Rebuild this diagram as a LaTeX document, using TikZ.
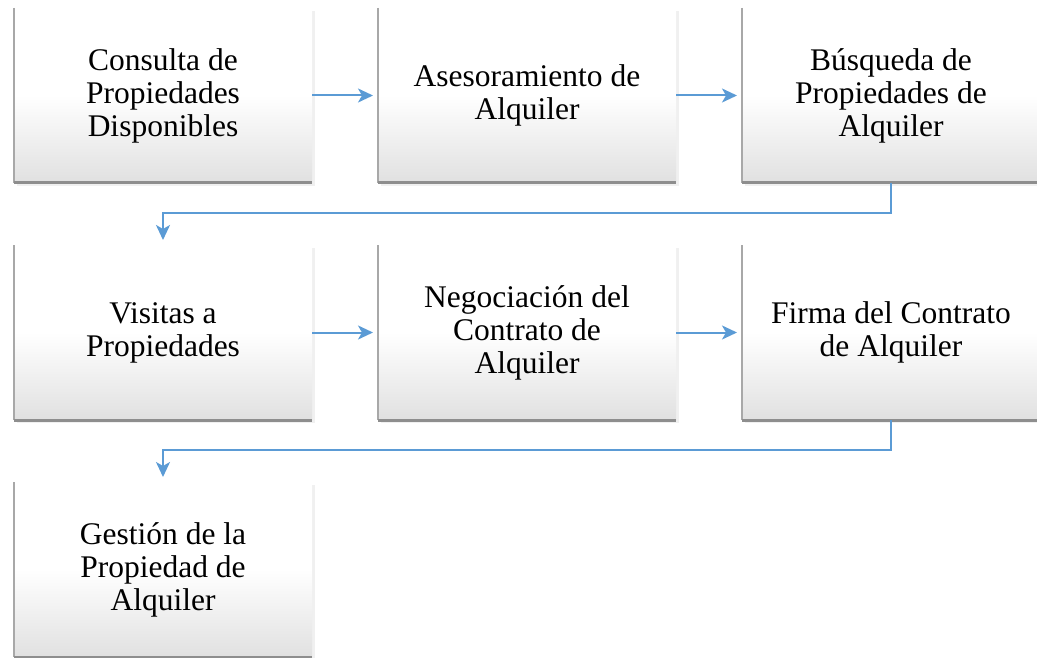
\documentclass[tikz,border=0pt]{standalone}
\usepackage{fontspec}
\setmainfont{Liberation Serif}
\usetikzlibrary{positioning,shadows,arrows.meta}
\definecolor{linkblue}{HTML}{5B9BD5}
\definecolor{sideedge}{HTML}{A8A8A8}
\definecolor{baseedge}{HTML}{8E8E8E}
\begin{document}
\begin{tikzpicture}[x=1pt,y=1pt,
  stage/.style={minimum width=\w, minimum height=\h, inner sep=0pt, outer sep=0pt,
    align=center, font=\fontsize{31.5pt}{33pt}\selectfont,
    top color=white, bottom color=black!12, middle color=white,
    drop shadow={shadow xshift=3pt, shadow yshift=-3pt, opacity=0.12}},
  link/.style={draw=linkblue, line width=2pt, shorten >=5pt,
    -{Stealth[length=15pt,width=14pt,inset=4pt]}},
  node distance=62pt and 66pt]

% Size of a box
\def\w{298pt}
\def\h{175pt}

% Page frame
\useasboundingbox (0,0) rectangle (1037,-658);

% First row
\node[stage, anchor=north west] (consulta) at (14,-8) {Consulta de\\Propiedades\\Disponibles};
\node[stage, right=of consulta] (asesor) {Asesoramiento de\\Alquiler};
\node[stage, right=of asesor] (busqueda) {Búsqueda de\\Propiedades de\\Alquiler};

% Second row
\node[stage, below=of consulta] (visitas) {Visitas a\\Propiedades};
\node[stage, right=of visitas] (negocia) {Negociación del\\Contrato de\\Alquiler};
\node[stage, right=of negocia] (firma) {Firma del Contrato\\de Alquiler};

% Last box
\node[stage, below=of visitas] (gestion) {Gestión de la\\Propiedad de\\Alquiler};

% Left and bottom edges of the boxes
\foreach \n in {consulta,asesor,busqueda,visitas,negocia,firma,gestion} {
  \draw[sideedge, line width=2pt] (\n.north west) -- (\n.south west);
  \draw[baseedge, line width=3pt] (\n.south west) -- (\n.south east);
}

% Arrows
\draw[link] (consulta) -- (asesor);
\draw[link] (asesor) -- (busqueda);
\draw[link] (busqueda.south) -- ++(0,-30) -| (visitas.north);
\draw[link] (visitas) -- (negocia);
\draw[link] (negocia) -- (firma);
\draw[link] (firma.south) -- ++(0,-30) -| (gestion.north);

\end{tikzpicture}
\end{document}
